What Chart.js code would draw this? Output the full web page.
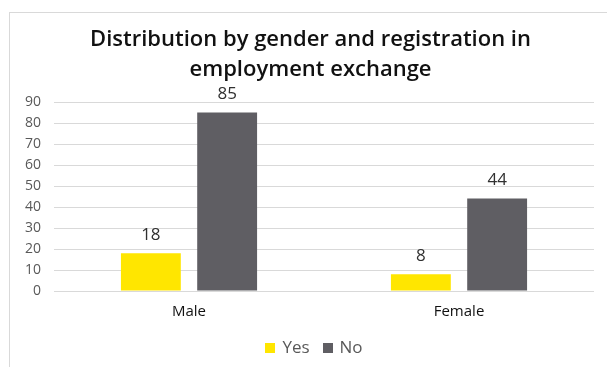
<!DOCTYPE html>
<html>
<head>
<meta charset="utf-8">
<script src="https://cdn.jsdelivr.net/npm/chart.js@4"></script>
<style>
  html, body { margin: 0; padding: 0; background: #fff; }
  #wrap { position: relative; width: 607px; height: 367px; }
</style>
</head>
<body>
<div id="wrap"><canvas id="c" width="607" height="367"></canvas></div>
<script>
const categories = ['Male', 'Female'];
const yesValues = [18, 8];
const noValues = [85, 44];
const seriesNames = ['Yes', 'No'];
const seriesColors = ['#FFE600', '#5F5E63'];
const yTicks = [0, 10, 20, 30, 40, 50, 60, 70, 80, 90];
const titleLines = ['Distribution by gender and registration in', 'employment exchange'];

const FONT = "'Open Sans', 'Noto Sans', sans-serif";

// white background and light frame
const framePlugin = {
  id: 'frame',
  beforeDraw(chart) {
    const ctx = chart.ctx;
    ctx.save();
    ctx.fillStyle = '#fff';
    ctx.fillRect(0, 0, chart.width, chart.height);
    ctx.strokeStyle = '#d9d9d9';
    ctx.lineWidth = 1;
    ctx.strokeRect(9.5, 12.5, chart.width + 20, chart.height + 20);
    ctx.restore();
  }
};

// two-line heading centred over the frame
const headingPlugin = {
  id: 'heading',
  afterDraw(chart) {
    const ctx = chart.ctx;
    ctx.save();
    ctx.font = "600 22px " + FONT;
    ctx.fillStyle = '#111111';
    ctx.textAlign = 'center';
    ctx.textBaseline = 'middle';
    titleLines.forEach((line, i) => ctx.fillText(line, 310.5, 40 + i * 30));
    ctx.restore();
  }
};

// series key below the axis
const keyPlugin = {
  id: 'key',
  afterDraw(chart) {
    const ctx = chart.ctx;
    ctx.save();
    ctx.font = "17px " + FONT;
    const box = 10, gap = 7, between = 13;
    const widths = seriesNames.map(n => ctx.measureText(n).width);
    const total = widths.reduce((s, w) => s + box + gap + w, 0) + between * (seriesNames.length - 1);
    let x = 314 - total / 2;
    const y = 348;
    ctx.textBaseline = 'middle';
    ctx.textAlign = 'left';
    seriesNames.forEach((name, i) => {
      ctx.fillStyle = seriesColors[i];
      ctx.fillRect(Math.round(x), y - 5, box, box);
      x += box + gap;
      ctx.fillStyle = '#595959';
      ctx.fillText(name, x, y);
      x += widths[i] + between;
    });
    ctx.restore();
  }
};

// value labels above each bar
const valueLabels = {
  id: 'valueLabels',
  afterDatasetsDraw(chart) {
    const ctx = chart.ctx;
    ctx.save();
    ctx.font = "17px " + FONT;
    ctx.fillStyle = '#303030';
    ctx.textAlign = 'center';
    ctx.textBaseline = 'middle';
    chart.data.datasets.forEach((ds, i) => {
      chart.getDatasetMeta(i).data.forEach((bar, j) => {
        ctx.fillText(String(ds.data[j]), bar.x, bar.y - 18);
      });
    });
    ctx.restore();
  }
};

new Chart(document.getElementById('c'), {
  type: 'bar',
  data: {
    labels: categories,
    datasets: [
      { label: seriesNames[0], data: yesValues, backgroundColor: seriesColors[0],
        categoryPercentage: 0.565, barPercentage: 0.785 },
      { label: seriesNames[1], data: noValues, backgroundColor: seriesColors[1],
        categoryPercentage: 0.565, barPercentage: 0.785 }
    ]
  },
  options: {
    responsive: false,
    animation: false,
    layout: { padding: { left: 12, right: 13, top: 102, bottom: 34 } },
    plugins: {
      title: { display: false },
      legend: { display: false },
      tooltip: { enabled: false }
    },
    scales: {
      x: {
        grid: { display: false, drawTicks: false },
        border: { display: false },
        ticks: { font: { family: FONT, size: 15 }, color: '#111111', padding: 12 }
      },
      y: {
        min: 0,
        max: 90,
        afterBuildTicks(axis) { axis.ticks = yTicks.map(v => ({ value: v })); },
        grid: { color: '#d9d9d9', lineWidth: 1, drawTicks: false },
        border: { display: false },
        ticks: { font: { family: FONT, size: 14 }, color: '#595959', padding: 13, autoSkip: false }
      }
    }
  },
  plugins: [framePlugin, valueLabels, headingPlugin, keyPlugin]
});
</script>
</body>
</html>
